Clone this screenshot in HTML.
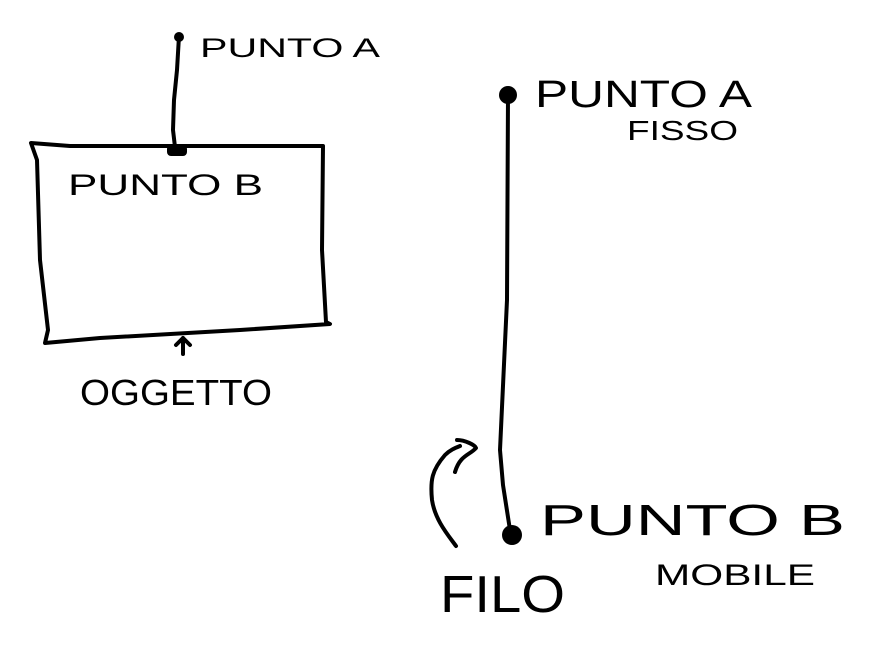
<!DOCTYPE html>
<html><head><meta charset="utf-8"><style>
html,body{margin:0;padding:0;background:#fff;width:880px;height:645px;overflow:hidden}
text{font-family:"Liberation Sans",sans-serif;fill:#000}
</style></head><body>
<svg width="880" height="645" viewBox="0 0 880 645" xmlns="http://www.w3.org/2000/svg">
<g fill="none" stroke="#000" stroke-width="4" stroke-linecap="round" stroke-linejoin="round">
<path d="M179 36 L177 70 L174 100 L173 130 L175 147"/>
<path d="M31 143 L70 146 L323 146 L322 250 L326 322 L330 324 L240 330 L100 338 L45 343 L48 330 L40 260 L37 160 Z"/>
<path d="M183 354 L183 338 M176 345 L183 338 L190 345"/>
<path d="M508 95 L507 300 L500 450 L503 485 L510 530"/>
<path d="M456 546 C448 535 435 520 432 500 C430 480 432 470 445 455 C450 450 455 448 460 446 M457 440 C465 440 475 445 476 448 C470 455 460 455 455 472"/>
</g>
<circle cx="179" cy="37" r="5"/>
<rect x="167" y="145" width="20" height="11" rx="4"/>
<circle cx="508" cy="95" r="9"/>
<circle cx="512" cy="535" r="10"/>
<text x="200" y="57" font-size="27" textLength="180" lengthAdjust="spacingAndGlyphs">PUNTO A</text>
<text x="68" y="195" font-size="30" textLength="195" lengthAdjust="spacingAndGlyphs">PUNTO B</text>
<text x="80" y="405" font-size="36" textLength="192" lengthAdjust="spacingAndGlyphs">OGGETTO</text>
<text x="535" y="107" font-size="38" textLength="217" lengthAdjust="spacingAndGlyphs">PUNTO A</text>
<text x="627" y="140" font-size="28" textLength="111" lengthAdjust="spacingAndGlyphs">FISSO</text>
<text x="540" y="535" font-size="44" textLength="305" lengthAdjust="spacingAndGlyphs">PUNTO B</text>
<text x="655" y="585" font-size="30" textLength="160" lengthAdjust="spacingAndGlyphs">MOBILE</text>
<text x="440" y="612" font-size="52" textLength="125" lengthAdjust="spacingAndGlyphs">FILO</text>
</svg>
</body></html>
